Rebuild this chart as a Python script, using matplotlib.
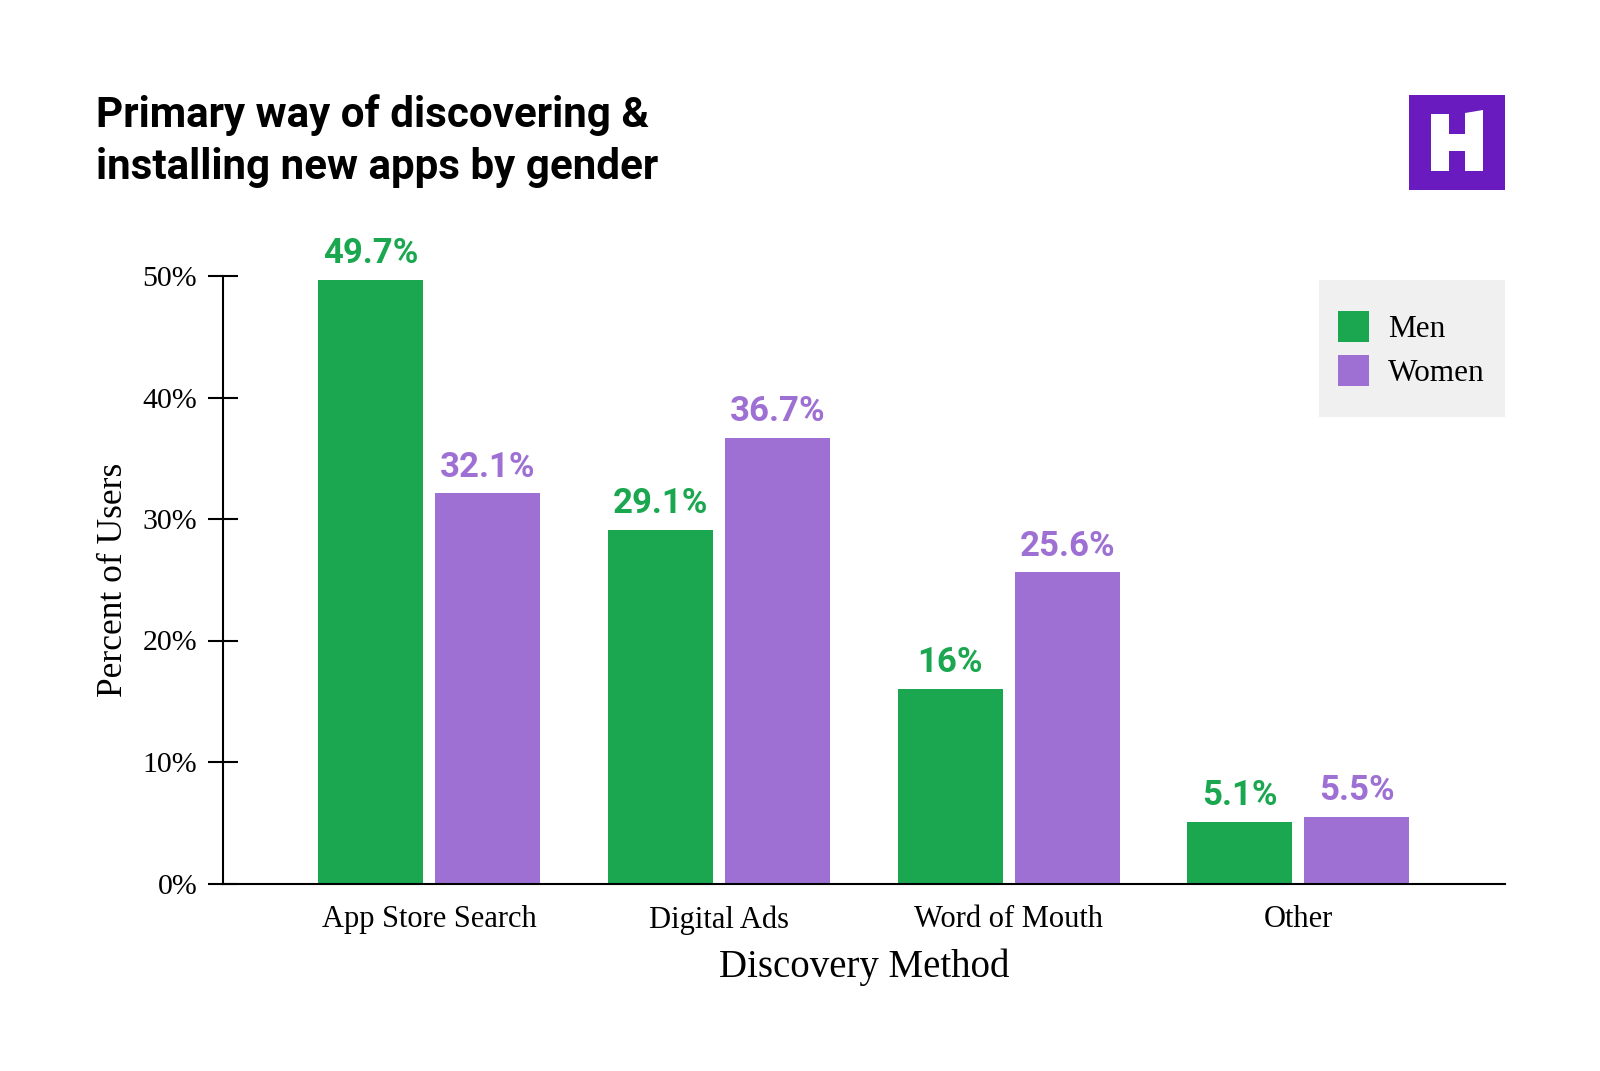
import matplotlib

matplotlib.use("Agg")
import matplotlib.pyplot as plt
from matplotlib.patches import Polygon, Rectangle
import numpy as np

W, H = 1600, 1071

categories = ["App Store Search", "Digital Ads", "Word of Mouth", "Other"]
men = [49.7, 29.1, 16, 5.1]
women = [32.1, 36.7, 25.6, 5.5]
men_labels = ["49.7%", "29.1%", "16%", "5.1%"]
women_labels = ["32.1%", "36.7%", "25.6%", "5.5%"]
yticks = [0, 10, 20, 30, 40, 50]
ytick_labels = ["0%", "10%", "20%", "30%", "40%", "50%"]

GREEN = "#1AA750"
PURPLE = "#9E70D3"
LOGO = "#6A1BBF"
SERIF = "Liberation Serif"
SANS = "Roboto"


def fx(x):
    return x / W


def fy(y):
    return 1 - y / H


fig = plt.figure(figsize=(16, 10.71), dpi=100)
ax = fig.add_axes([fx(223), fy(883.5), fx(1505 - 223), (883.5 - 276) / H])

pos = np.arange(len(categories))
width = 0.362
offset = 0.202
bars_m = ax.bar(pos - offset, men, width, color=GREEN, label="Men", zorder=2)
bars_w = ax.bar(pos + offset, women, width, color=PURPLE, label="Women", zorder=2)
for bars, labels, color in ((bars_m, men_labels, GREEN), (bars_w, women_labels, PURPLE)):
    for bar, text in zip(bars, labels):
        ax.annotate(
            text,
            (bar.get_x() + bar.get_width() / 2, bar.get_height()),
            xytext=(0, 7),
            textcoords="offset points",
            ha="center",
            va="bottom",
            color=color,
            fontsize=25,
            fontweight="bold",
            family=SANS,
        )

ax.set_xlim(-0.711, 3.713)
ax.set_ylim(0, 50)
for side in ("top", "right"):
    ax.spines[side].set_visible(False)
for side in ("left", "bottom"):
    ax.spines[side].set_linewidth(1.5)
ax.set_yticks(yticks)
ax.set_yticklabels(ytick_labels, fontsize=21.5, family=SERIF)
ax.tick_params(axis="y", direction="inout", length=21, width=1.5, pad=8)
ax.set_xticks(pos)
ax.set_xticklabels(categories, fontsize=22, family=SERIF)
ax.tick_params(axis="x", length=0, pad=15.5)
ax.set_xlabel("Discovery Method", fontsize=28, family=SERIF, labelpad=10)
ax.set_ylabel("Percent of Users", fontsize=25.5, family=SERIF, labelpad=9)

# legend box sits behind a frameless legend
ax.add_patch(Rectangle((fx(1319), fy(417)), 186 / W, 137 / H, transform=fig.transFigure,
                       color="#F0F0F0", zorder=1, lw=0, clip_on=False))
leg = ax.legend(
    loc="upper left",
    bbox_to_anchor=(fx(1338), fy(311)),
    bbox_transform=fig.transFigure,
    frameon=False,
    borderpad=0,
    borderaxespad=0,
    handlelength=0.99,
    handleheight=1.146,
    handletextpad=0.62,
    labelspacing=0.36,
    prop={"family": SERIF, "size": 22.5},
)
leg.set_zorder(5)

fig.text(fx(96), fy(115), "Primary way of discovering &", fontsize=30.3, fontweight="bold",
         family=SANS, va="center", ha="left")
fig.text(fx(96), fy(168), "installing new apps by gender", fontsize=30.3, fontweight="bold",
         family=SANS, va="center", ha="left")

# logo
fig.add_artist(Rectangle((fx(1409), fy(190)), 96 / W, 95 / H, transform=fig.transFigure,
                         color=LOGO, lw=0))
logo_h = [(1431, 114), (1449, 114), (1449, 134), (1465, 134), (1465, 113), (1483, 110),
          (1483, 171), (1465, 171), (1465, 151), (1449, 151), (1449, 171), (1431, 171)]
fig.add_artist(Polygon([(fx(x), fy(y)) for x, y in logo_h], transform=fig.transFigure,
                       color="white", lw=0))

fig.savefig("out.png", dpi=100)
